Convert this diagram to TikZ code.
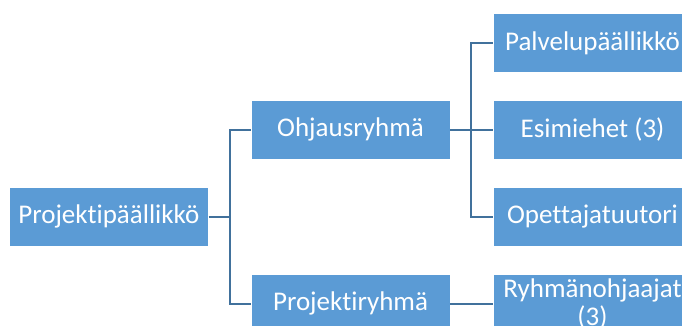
\documentclass[tikz,border=0pt]{standalone}
\usepackage{fontspec}
\setmainfont[Ligatures=NoCommon]{Carlito}
\usetikzlibrary{calc}
\definecolor{boxblue}{HTML}{5B9BD5}
\definecolor{linkblue}{HTML}{41719C}
\begin{document}
\begin{tikzpicture}[x=1pt,y=1pt,
  orgbox/.style={draw=white, line width=0.8pt, fill=boxblue, text=white,
    minimum width=199pt, minimum height=59pt, inner sep=1pt, align=center,
    font=\fontsize{27}{28}\selectfont},
  link/.style={draw=linkblue, line width=2pt}]
\useasboundingbox (0,0) rectangle (682,-326);
\clip (0,0) rectangle (682,-326);
\node[orgbox] (pp) at (108.8,-216.5) {Projektipäällikkö};
\node[orgbox] (or) at (350.5,-129.5) {Ohjausryhmä};
\node[orgbox] (pr) at (350.5,-303.5) {Projektiryhmä};
\node[orgbox] (pv) at (592.5,-43) {Palvelupäällikkö};
\node[orgbox] (es) at (592.5,-129.5) {Esimiehet (3)};
\node[orgbox] (ot) at (592.5,-216.5) {Opettajatuutori};
\node[orgbox] (ro) at (592.5,-303.5) {Ryhmänohjaajat\\(3)};
\coordinate (jpp) at ($(pp.east)+(21,0)$);
\coordinate (jor) at ($(or.east)+(21,0)$);
\draw[link] (pp.east) -- (jpp);
\draw[link] (or.west) -| (jpp) |- (pr.west);
\draw[link] (or.east) -- (es.west);
\draw[link] (pv.west) -| (jor) |- (ot.west);
\draw[link] (pr.east) -- (ro.west);
\end{tikzpicture}
\end{document}
